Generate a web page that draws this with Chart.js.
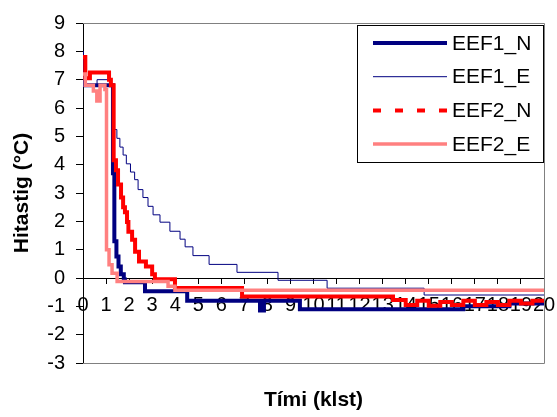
<!DOCTYPE html>
<html>
<head>
<meta charset="utf-8">
<script src="https://cdn.jsdelivr.net/npm/chart.js@4/dist/chart.umd.min.js"></script>
<style>
  body { margin: 0; background: #fff; }
</style>
</head>
<body>
<canvas id="chart" width="557" height="417"></canvas>
<script>
// series names
const seriesNames = ['EEF1_N', 'EEF1_E', 'EEF2_N', 'EEF2_E'];

// tick labels
const xTicks = [0, 1, 2, 3, 4, 5, 6, 7, 8, 9, 10, 11, 12, 13, 14, 15, 16, 17, 18, 19, 20];
const yTicks = [-3, -2, -1, 0, 1, 2, 3, 4, 5, 6, 7, 8, 9];

// time (klst) where each step starts, and its temperature (°C)
const eef1nTime = [0, 1.3, 1.36, 1.45, 1.54, 1.64, 1.77, 1.82, 2.69, 4.52, 7.68, 7.85, 9.41, 16.5, 18.5, 20];
const eef1nTemp = [6.8, 3.7, 1.3, 0.76, 0.41, 0.13, -0.05, -0.15, -0.47, -0.8, -1.15, -0.8, -1.1, -1.0, -0.9, -0.9];

const eef1eTime = [0, 0.02, 0.61, 1.17, 1.3, 1.47, 1.6, 1.74, 1.88, 2.06, 2.24, 2.39, 2.6, 2.82, 3.04, 3.34, 3.77, 4.21, 4.43, 4.77, 5.47, 6.68, 8.46, 10.59, 14.8, 20];
const eef1eTemp = [8.0, 6.8, 7.0, 6.8, 5.24, 4.93, 4.62, 4.34, 4.03, 3.74, 3.47, 3.12, 2.84, 2.53, 2.23, 1.97, 1.65, 1.37, 1.1, 0.79, 0.48, 0.2, -0.08, -0.36, -0.6, -0.6];

const eef2nTime = [0, 0.1, 0.3, 1.13, 1.21, 1.33, 1.43, 1.52, 1.65, 1.74, 1.82, 1.91, 1.97, 2.13, 2.26, 2.43, 2.73, 3.0, 3.12, 3.99, 6.9, 13.45, 14.0, 14.5, 15.0, 15.5, 16.0, 16.5, 17.0, 17.5, 18.0, 18.5, 19.0, 19.5, 20];
const eef2nTemp = [7.8, 7.05, 7.25, 7.0, 6.8, 4.16, 3.8, 3.3, 2.84, 2.5, 2.32, 1.98, 1.63, 1.35, 0.93, 0.58, 0.41, 0.13, -0.04, -0.35, -0.65, -0.78, -0.95, -0.8, -0.98, -0.85, -0.95, -0.8, -0.95, -0.85, -0.95, -0.8, -0.9, -0.8, -0.85];

const eef2eTime = [0, 0.1, 0.45, 0.6, 0.74, 0.95, 1.02, 1.13, 1.26, 1.48, 3.69, 3.99, 20];
const eef2eTemp = [7.2, 6.8, 6.6, 6.25, 6.8, 6.65, 1.0, 0.47, 0.17, -0.12, -0.29, -0.43, -0.43];

const legendDash = [[], [], [8, 14], []];

function pairs(t, v) {
    return t.map((x, i) => ({ x: x, y: v[i] }));
}

// gray frame round the plot area (left side is the y axis)
const frame = {
    id: 'frame',
    afterDatasetsDraw(chart) {
        const a = chart.chartArea;
        const ctx = chart.ctx;
        ctx.save();
        ctx.strokeStyle = '#808080';
        ctx.lineWidth = 1;
        ctx.beginPath();
        ctx.moveTo(a.left, Math.round(a.top) + 0.5);
        ctx.lineTo(Math.round(a.right) + 0.5, Math.round(a.top) + 0.5);
        ctx.lineTo(Math.round(a.right) + 0.5, Math.round(a.bottom) + 0.5);
        ctx.lineTo(a.left, Math.round(a.bottom) + 0.5);
        ctx.stroke();
        ctx.restore();
    }
};

// legend box inside the plot, top right
const legendBox = {
    id: 'legendBox',
    afterDraw(chart) {
        const a = chart.chartArea;
        const ctx = chart.ctx;
        const x0 = Math.round(a.right) - 187, y0 = Math.round(a.top) + 2;
        ctx.save();
        ctx.fillStyle = '#fff';
        ctx.fillRect(x0, y0, 186, 137);
        ctx.strokeStyle = '#000';
        ctx.lineWidth = 1;
        ctx.strokeRect(x0 + 0.5, y0 + 0.5, 186, 137);
        chart.data.datasets.forEach((ds, i) => {
            const y = y0 + 18 + i * 33.7;
            ctx.strokeStyle = ds.borderColor;
            ctx.lineWidth = ds.borderWidth;
            ctx.setLineDash(legendDash[i]);
            ctx.beginPath();
            ctx.moveTo(x0 + 16, y);
            ctx.lineTo(x0 + 90, y);
            ctx.stroke();
            ctx.setLineDash([]);
            ctx.fillStyle = '#000';
            ctx.font = '21px "Liberation Sans", Arial, sans-serif';
            ctx.textBaseline = 'middle';
            ctx.textAlign = 'left';
            ctx.fillText(ds.label, x0 + 95, y + 1);
        });
        ctx.restore();
    }
};

const tickFont = { family: '"Liberation Sans", Arial, sans-serif', size: 20 };
const titleFont = { family: '"Liberation Sans", Arial, sans-serif', size: 21, weight: 'bold' };

new Chart(document.getElementById('chart'), {
    type: 'line',
    data: {
        datasets: [{
            label: seriesNames[0],
            data: pairs(eef1nTime, eef1nTemp),
            borderColor: '#000080',
            borderWidth: 4,
            order: 4,
        }, {
            label: seriesNames[1],
            data: pairs(eef1eTime, eef1eTemp),
            borderColor: '#000080',
            borderWidth: 1,
            order: 3,
        }, {
            label: seriesNames[2],
            data: pairs(eef2nTime, eef2nTemp),
            borderColor: '#ff0000',
            borderWidth: 4,
            order: 2,
        }, {
            label: seriesNames[3],
            data: pairs(eef2eTime, eef2eTemp),
            borderColor: '#ff8080',
            borderWidth: 3.5,
            order: 1,
        }],
    },
    options: {
        responsive: false,
        animation: false,
        devicePixelRatio: 1,
        layout: { padding: { left: 0, right: 13, top: 18, bottom: 0 } },
        datasets: {
            line: { stepped: true, pointRadius: 0, fill: false, tension: 0 },
        },
        scales: {
            x: {
                type: 'linear',
                position: { y: 0 },
                min: 0,
                max: 20,
                afterBuildTicks: (s) => { s.ticks = xTicks.map(v => ({ value: v })); },
                ticks: { autoSkip: false, maxRotation: 0, font: tickFont, color: '#000', padding: 10 },
                grid: { drawOnChartArea: false, tickLength: 5, color: '#000' },
                border: { color: '#000' },
                // labels may hang over the edges, like the original
                afterFit: (s) => { s.paddingLeft = 0; s.paddingRight = 0; },
            },
            x2: {
                type: 'linear',
                position: 'bottom',
                min: 0,
                max: 20,
                ticks: { display: false },
                grid: { display: false },
                border: { display: false },
                title: { display: true, text: 'Tími (klst)', font: titleFont, color: '#000', padding: { top: 0, bottom: 4 } },
                afterFit: (s) => { s.height = 54; },
            },
            y: {
                min: -3,
                max: 9,
                afterBuildTicks: (s) => { s.ticks = yTicks.map(v => ({ value: v })); },
                ticks: { font: tickFont, color: '#000', padding: 11 },
                grid: { drawOnChartArea: false, tickLength: 7, color: '#000' },
                border: { color: '#000' },
                title: { display: true, text: 'Hitastig (°C)', font: titleFont, color: '#000', padding: { top: 10, bottom: 0 } },
                afterFit: (s) => { s.width = 83; },
            },
        },
        plugins: {
            legend: { display: false },
            tooltip: { enabled: false },
        },
    },
    plugins: [frame, legendBox],
});
</script>
</body>
</html>
